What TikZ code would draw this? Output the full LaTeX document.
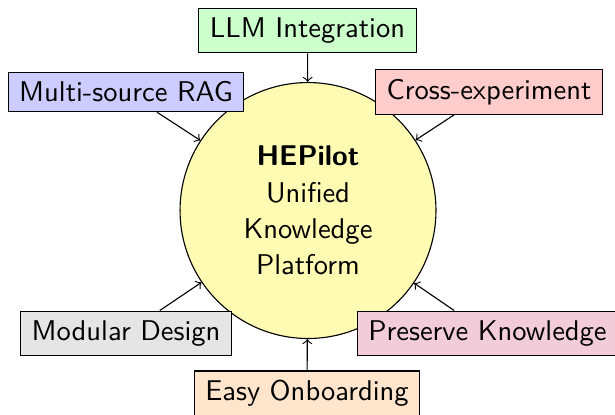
\documentclass[tikz,border=0pt]{standalone}
\usepackage{xcolor}
\begin{document}
\begin{tikzpicture}[
  x=0.35714pt, y=-0.35714pt,
  hub/.style={circle, draw=black, fill=yellow!30, minimum size=91.4pt,
    inner sep=0pt, align=center, font=\sffamily\fontsize{10.2}{13}\selectfont},
  feature/.style={rectangle, draw=black, inner xsep=3.95pt, inner ysep=3.35pt,
    font=\sffamily\fontsize{10.2}{12.4}\selectfont},
  link/.style={->, black}
]
\useasboundingbox (0,0) rectangle (615,414);

% central platform
\node[hub] (hub) at (308,210.5)
  {\textbf{HEPilot}\\Unified\\Knowledge\\Platform};

% surrounding features
\node[feature, fill=green!20]  (llm)      at (307.5,30.5) {LLM Integration};
\node[feature, fill=blue!20]   (rag)      at (126,92)     {Multi-source RAG};
\node[feature, fill=red!20]    (cross)    at (489,92)     {Cross-experiment};
\node[feature, fill=gray!20]   (modular)  at (126,333.3)  {Modular Design};
\node[feature, fill=purple!20] (preserve) at (487.5,333.3){Preserve Knowledge};
\node[feature, fill=orange!20] (easy)     at (307,393.5)  {Easy Onboarding};

% connections into the platform
\foreach \src in {llm,rag,cross,modular,preserve,easy}
  \draw[link] (\src) -- (hub);
\end{tikzpicture}
\end{document}
